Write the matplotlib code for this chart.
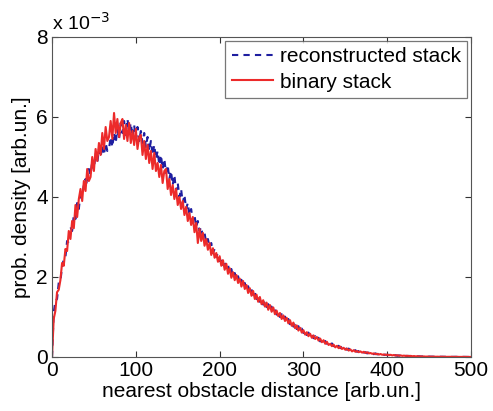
"""Nearest obstacle distance distributions: reconstructed vs binary stack."""
import matplotlib
matplotlib.use("Agg")
import matplotlib.pyplot as plt
import numpy as np

# probability density per distance bin (bins every 2 arb.un., 0..500), units of 1e-3
reconstructed = [
    0.0, 1.1, 1.4, 1.45, 1.85, 1.9, 2.25, 2.45, 2.5, 2.9,
    2.85, 3.25, 3.15, 3.55, 3.45, 3.85, 3.7, 4.1, 4.05, 4.3,
    4.45, 4.3, 4.7, 4.55, 4.9, 4.7, 5.1, 4.85, 5.2, 5.0,
    5.3, 5.05, 5.35, 5.15, 5.2, 5.5, 5.25, 5.6, 5.35, 5.7,
    5.45, 5.85, 5.6, 5.9, 5.55, 5.95, 5.65, 5.85, 5.5, 5.8,
    5.45, 5.75, 5.4, 5.65, 5.35, 5.6, 5.25, 5.5, 5.15, 5.4,
    5.05, 5.3, 4.95, 5.15, 4.8, 5.05, 4.7, 4.95, 4.6, 4.8,
    4.45, 4.65, 4.3, 4.55, 4.15, 4.35, 4.0, 4.2, 3.85, 4.05,
    3.7, 3.85, 3.55, 3.7, 3.4, 3.55, 3.25, 3.4, 3.15, 3.25,
    3.0, 3.1, 2.85, 2.95, 2.75, 2.85, 2.6, 2.7, 2.5, 2.6,
    2.4, 2.5, 2.3, 2.4, 2.2, 2.3, 2.1, 2.2, 2.0, 2.1,
    1.92, 2.02, 1.84, 1.93, 1.76, 1.85, 1.68, 1.77, 1.6, 1.69,
    1.52, 1.61, 1.45, 1.53, 1.38, 1.46, 1.31, 1.39, 1.25, 1.32,
    1.19, 1.26, 1.12, 1.2, 1.06, 1.13, 1.0, 1.07, 0.94, 1.01,
    0.88, 0.95, 0.82, 0.89, 0.76, 0.83, 0.7, 0.77, 0.65, 0.71,
    0.6, 0.66, 0.55, 0.61, 0.51, 0.56, 0.47, 0.52, 0.43, 0.48,
    0.39, 0.44, 0.36, 0.4, 0.33, 0.37, 0.3, 0.34, 0.27, 0.31,
    0.25, 0.28, 0.22, 0.26, 0.2, 0.23, 0.18, 0.21, 0.16, 0.19,
    0.15, 0.17, 0.13, 0.15, 0.12, 0.14, 0.11, 0.12, 0.09, 0.11,
    0.08, 0.1, 0.07, 0.09, 0.065, 0.08, 0.055, 0.07, 0.05, 0.06,
    0.045, 0.055, 0.04, 0.05, 0.035, 0.045, 0.03, 0.04, 0.028, 0.035,
    0.025, 0.03, 0.022, 0.028, 0.018, 0.024, 0.015, 0.02, 0.013, 0.017,
    0.011, 0.014, 0.009, 0.012, 0.008, 0.01, 0.007, 0.009, 0.006, 0.008,
    0.005, 0.007, 0.005, 0.006, 0.004, 0.005, 0.004, 0.005, 0.003, 0.004,
    0.003, 0.004, 0.002, 0.003, 0.002, 0.003, 0.002, 0.002, 0.002, 0.001,
    0.001,
]
binary = [
    0.0, 0.95, 1.15, 1.62, 1.68, 1.92, 2.35, 2.28, 2.7, 2.65,
    3.15, 2.95, 3.4, 3.22, 3.8, 3.5, 3.95, 4.2, 3.9, 4.4,
    4.15, 4.7, 4.4, 4.5, 5.0, 4.65, 5.2, 4.9, 5.35, 5.05,
    5.6, 5.2, 5.75, 5.4, 5.5, 5.9, 5.45, 6.1, 5.6, 5.95,
    5.5, 5.85, 5.95, 5.45, 5.8, 5.4, 5.85, 5.35, 5.65, 5.3,
    5.7, 5.2, 5.5, 5.55, 5.05, 5.4, 4.95, 5.3, 4.85, 5.15,
    4.7, 5.1, 4.65, 4.85, 4.5, 4.8, 4.35, 4.65, 4.7, 4.2,
    4.45, 4.05, 4.3, 3.95, 4.2, 3.8, 4.0, 3.7, 3.9, 3.55,
    3.75, 3.4, 3.6, 3.3, 3.5, 3.12, 3.35, 2.85, 3.2, 2.9,
    3.1, 2.78, 2.95, 2.68, 2.85, 2.55, 2.72, 2.48, 2.6, 2.38,
    2.52, 2.28, 2.42, 2.18, 2.33, 2.08, 2.22, 1.98, 2.12, 1.92,
    2.05, 1.85, 1.96, 1.76, 1.9, 1.7, 1.8, 1.6, 1.72, 1.53,
    1.65, 1.45, 1.56, 1.38, 1.5, 1.32, 1.42, 1.26, 1.36, 1.18,
    1.3, 1.13, 1.24, 1.07, 1.16, 1.02, 1.1, 0.95, 1.04, 0.9,
    0.98, 0.84, 0.92, 0.78, 0.86, 0.72, 0.79, 0.66, 0.73, 0.61,
    0.67, 0.56, 0.62, 0.52, 0.58, 0.48, 0.54, 0.45, 0.5, 0.41,
    0.46, 0.37, 0.42, 0.33, 0.38, 0.3, 0.33, 0.27, 0.31, 0.24,
    0.28, 0.22, 0.26, 0.2, 0.23, 0.18, 0.21, 0.16, 0.19, 0.14,
    0.17, 0.13, 0.15, 0.12, 0.14, 0.11, 0.13, 0.1, 0.12, 0.09,
    0.1, 0.08, 0.09, 0.07, 0.08, 0.06, 0.075, 0.055, 0.065, 0.05,
    0.06, 0.045, 0.055, 0.04, 0.05, 0.035, 0.045, 0.03, 0.04, 0.028,
    0.035, 0.025, 0.032, 0.022, 0.028, 0.018, 0.024, 0.015, 0.02, 0.013,
    0.017, 0.011, 0.014, 0.009, 0.012, 0.008, 0.01, 0.007, 0.009, 0.006,
    0.008, 0.005, 0.007, 0.005, 0.006, 0.004, 0.005, 0.004, 0.005, 0.003,
    0.004, 0.003, 0.004, 0.002, 0.003, 0.002, 0.003, 0.002, 0.002, 0.002,
    0.001,
]
bin_width = 2

xticks = [0, 100, 200, 300, 400, 500]
yticks = [0, 2, 4, 6, 8]

plt.rcParams["font.family"] = ["Liberation Sans", "DejaVu Sans"]
plt.rcParams["font.size"] = 15

fig = plt.figure(figsize=(4.93, 4.11), dpi=100)
ax = fig.add_axes([0.1055, 0.1314, 0.85, 0.7786])

x_rec = np.arange(len(reconstructed)) * bin_width
x_bin = np.arange(len(binary)) * bin_width
ax.plot(x_rec, np.array(reconstructed) * 1e-3, color="#1e1ea0", ls=(0, (3, 2.5)),
        lw=1.5, label="reconstructed stack")
ax.plot(x_bin, np.array(binary) * 1e-3, color="#ec2a2a", lw=1.5,
        label="binary stack")

ax.set_xlim(0, 500)
ax.set_ylim(0, 8e-3)
ax.set_xticks(xticks)
ax.set_yticks([v * 1e-3 for v in yticks])
ax.set_yticklabels([str(v) for v in yticks])
ax.tick_params(direction="in", length=4, top=True, right=True, pad=3,
               colors="#333333", labelcolor="black")
for s in ax.spines.values():
    s.set_color("#555555")

ax.text(0.0, 1.01, r"x 10$^{-3}$", transform=ax.transAxes, fontsize=14,
        ha="left", va="bottom")

ax.set_xlabel("nearest obstacle distance [arb.un.]", labelpad=1)
ax.set_ylabel("prob. density [arb.un.]", labelpad=4)

leg = ax.legend(loc="upper right", fancybox=False, handlelength=2.0,
                handletextpad=0.3, borderaxespad=0.2, borderpad=0.3,
                labelspacing=0.3, fontsize=15)
leg.get_frame().set_edgecolor("#555555")
leg.get_frame().set_linewidth(0.9)

fig.savefig("out.png", dpi=100)
